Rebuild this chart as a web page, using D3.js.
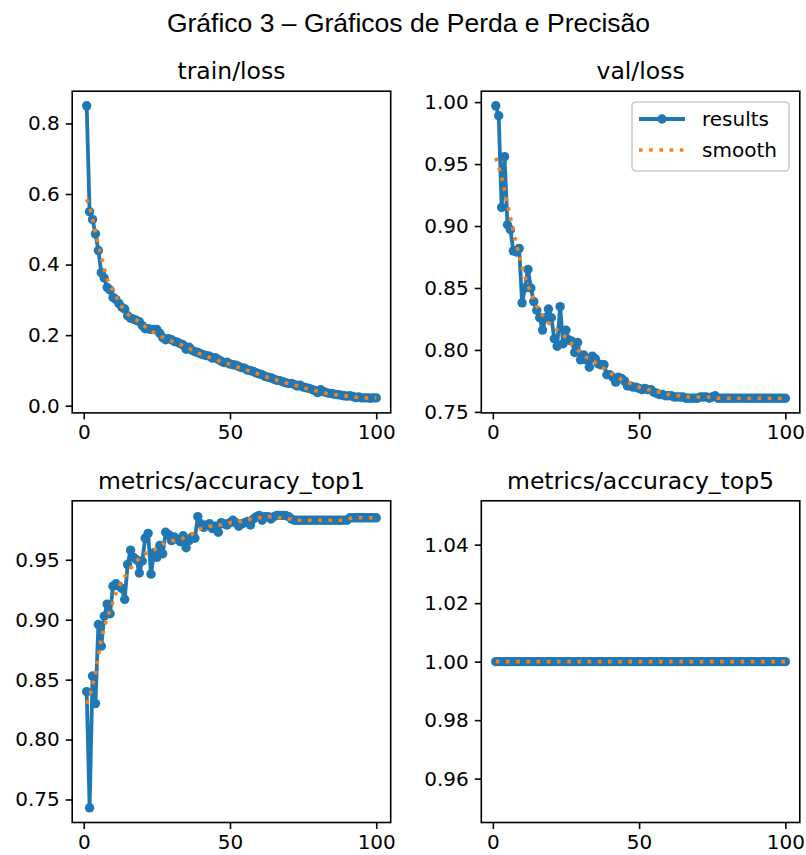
<!DOCTYPE html>
<html><head><meta charset="utf-8">
<script src="https://cdn.jsdelivr.net/npm/d3@7/dist/d3.min.js"></script>
<style>body{margin:0;background:#fff}svg{display:block}</style>
</head><body>
<svg id="c" width="806" height="855"></svg>
<script>
// ---------------- data ----------------
const epochs = d3.range(1, 101);
const xTicks = [0, 50, 100];

const trainLoss = [0.850,0.550,0.528,0.487,0.440,0.377,0.362,0.335,0.328,0.307,
0.301,0.290,0.279,0.274,0.255,0.248,0.245,0.242,0.238,0.227,
0.218,0.218,0.216,0.216,0.216,0.205,0.193,0.187,0.190,0.187,
0.182,0.180,0.176,0.172,0.160,0.166,0.157,0.153,0.151,0.147,
0.144,0.142,0.140,0.135,0.136,0.131,0.126,0.122,0.123,0.118,
0.116,0.115,0.111,0.108,0.106,0.101,0.099,0.097,0.093,0.090,
0.088,0.083,0.081,0.079,0.075,0.072,0.071,0.068,0.065,0.063,
0.063,0.060,0.056,0.058,0.053,0.051,0.049,0.046,0.043,0.037,
0.045,0.040,0.037,0.035,0.034,0.032,0.031,0.030,0.028,0.027,
0.028,0.026,0.023,0.025,0.022,0.022,0.022,0.021,0.022,0.022];
const trainSmooth = [0.585,0.565,0.530,0.492,0.455,0.420,0.388,0.360,0.342,0.327,
0.310,0.295,0.281,0.270,0.260,0.252,0.247,0.243,0.237,0.230,
0.224,0.218,0.212,0.207,0.202,0.198,0.194,0.190,0.186,0.183,
0.180,0.177,0.174,0.170,0.166,0.162,0.158,0.154,0.150,0.146,
0.143,0.140,0.137,0.134,0.131,0.128,0.125,0.122,0.120,0.117,
0.114,0.111,0.108,0.106,0.103,0.100,0.097,0.095,0.092,0.089,
0.086,0.083,0.080,0.078,0.075,0.073,0.070,0.068,0.065,0.063,
0.061,0.058,0.056,0.053,0.051,0.049,0.047,0.045,0.043,0.041,
0.039,0.037,0.035,0.034,0.032,0.031,0.030,0.029,0.028,0.027,
0.026,0.025,0.024,0.023,0.023,0.022,0.022,0.022,0.022,0.022];
const trainTicks = [0.0, 0.2, 0.4, 0.6, 0.8];
const trainTickLabels = ["0.0", "0.2", "0.4", "0.6", "0.8"];

const valLoss = [0.997,0.989,0.915,0.956,0.901,0.897,0.880,0.879,0.882,0.838,
0.850,0.865,0.850,0.839,0.832,0.826,0.816,0.826,0.833,0.826,
0.809,0.803,0.835,0.805,0.816,0.808,0.807,0.798,0.806,0.792,
0.796,0.792,0.786,0.795,0.793,0.789,0.788,0.788,0.780,0.780,
0.778,0.774,0.778,0.777,0.775,0.771,0.771,0.770,0.770,0.769,
0.768,0.769,0.768,0.768,0.766,0.765,0.764,0.764,0.763,0.763,
0.763,0.762,0.762,0.762,0.762,0.761,0.761,0.761,0.761,0.761,
0.762,0.762,0.762,0.761,0.762,0.763,0.761,0.761,0.761,0.761,
0.761,0.761,0.761,0.761,0.761,0.761,0.761,0.761,0.761,0.761,
0.761,0.761,0.761,0.761,0.761,0.761,0.761,0.761,0.761,0.761];
const valSmooth = [0.955,0.948,0.939,0.929,0.918,0.907,0.896,0.886,0.876,0.867,
0.859,0.852,0.846,0.840,0.835,0.831,0.828,0.825,0.822,0.820,
0.818,0.816,0.814,0.812,0.810,0.807,0.805,0.802,0.800,0.798,
0.796,0.794,0.793,0.791,0.790,0.788,0.786,0.785,0.783,0.782,
0.780,0.779,0.778,0.776,0.775,0.774,0.773,0.772,0.771,0.770,
0.769,0.769,0.768,0.768,0.767,0.766,0.766,0.765,0.765,0.764,
0.764,0.763,0.763,0.763,0.762,0.762,0.762,0.762,0.762,0.762,
0.762,0.762,0.762,0.762,0.762,0.762,0.761,0.761,0.761,0.761,
0.761,0.761,0.761,0.761,0.761,0.761,0.761,0.761,0.761,0.761,
0.761,0.761,0.761,0.761,0.761,0.761,0.761,0.761,0.761,0.761];
const valTicks = [0.75, 0.80, 0.85, 0.90, 0.95, 1.00];
const valTickLabels = ["0.75", "0.80", "0.85", "0.90", "0.95", "1.00"];

const top1 = [0.840,0.743,0.853,0.830,0.896,0.878,0.903,0.913,0.905,0.928,
0.930,0.928,0.926,0.917,0.946,0.958,0.952,0.950,0.939,0.949,
0.968,0.972,0.938,0.956,0.952,0.962,0.955,0.973,0.971,0.966,
0.969,0.967,0.965,0.970,0.960,0.966,0.969,0.968,0.986,0.980,
0.977,0.979,0.980,0.976,0.978,0.973,0.981,0.980,0.979,0.981,
0.983,0.981,0.978,0.980,0.981,0.982,0.979,0.984,0.986,0.987,
0.983,0.986,0.986,0.984,0.986,0.987,0.987,0.987,0.987,0.986,
0.984,0.983,0.983,0.983,0.983,0.983,0.983,0.983,0.983,0.983,
0.983,0.983,0.983,0.983,0.983,0.983,0.983,0.983,0.983,0.983,
0.985,0.985,0.985,0.985,0.985,0.985,0.985,0.985,0.985,0.985];
const top1Smooth = [0.830,0.836,0.845,0.855,0.870,0.884,0.894,0.901,0.908,0.915,
0.922,0.927,0.932,0.936,0.939,0.943,0.946,0.949,0.951,0.953,
0.955,0.956,0.957,0.958,0.960,0.961,0.963,0.964,0.965,0.966,
0.966,0.967,0.967,0.968,0.969,0.970,0.971,0.973,0.975,0.976,
0.977,0.977,0.978,0.978,0.978,0.979,0.979,0.980,0.980,0.981,
0.981,0.981,0.982,0.982,0.983,0.983,0.984,0.984,0.985,0.985,
0.985,0.985,0.986,0.986,0.986,0.986,0.985,0.985,0.985,0.984,
0.984,0.983,0.983,0.983,0.983,0.983,0.983,0.983,0.983,0.983,
0.983,0.983,0.983,0.983,0.983,0.983,0.983,0.983,0.9835,0.984,
0.9845,0.985,0.985,0.985,0.985,0.985,0.985,0.985,0.985,0.985];
const top1Ticks = [0.75, 0.80, 0.85, 0.90, 0.95];
const top1TickLabels = ["0.75", "0.80", "0.85", "0.90", "0.95"];

const top5 = [1,1,1,1,1,1,1,1,1,1, 1,1,1,1,1,1,1,1,1,1, 1,1,1,1,1,1,1,1,1,1,
1,1,1,1,1,1,1,1,1,1, 1,1,1,1,1,1,1,1,1,1, 1,1,1,1,1,1,1,1,1,1,
1,1,1,1,1,1,1,1,1,1, 1,1,1,1,1,1,1,1,1,1, 1,1,1,1,1,1,1,1,1,1,
1,1,1,1,1,1,1,1,1,1];
const top5Smooth = [1,1,1,1,1,1,1,1,1,1, 1,1,1,1,1,1,1,1,1,1, 1,1,1,1,1,1,1,1,1,1,
1,1,1,1,1,1,1,1,1,1, 1,1,1,1,1,1,1,1,1,1, 1,1,1,1,1,1,1,1,1,1,
1,1,1,1,1,1,1,1,1,1, 1,1,1,1,1,1,1,1,1,1, 1,1,1,1,1,1,1,1,1,1,
1,1,1,1,1,1,1,1,1,1];
const top5Ticks = [0.96, 0.98, 1.00, 1.02, 1.04];
const top5TickLabels = ["0.96", "0.98", "1.00", "1.02", "1.04"];

const titles = ["train/loss", "val/loss", "metrics/accuracy_top1", "metrics/accuracy_top5"];
const legendLabels = ["results", "smooth"];
const figTitle = "Gráfico 3 – Gráficos de Perda e Precisão";

// ---------------- layout / style ----------------
const BLUE = "#1f77b4", ORANGE = "#ff7f0e";
const AX_W = 318.5, AX_H = 321.7;
const cells = [
  {x: 72.2, y: 91.2}, {x: 481.3, y: 91.2},
  {x: 72.2, y: 500.8}, {x: 481.3, y: 500.8}
];
const FONT = "'DejaVu Sans', sans-serif";
const TICK_FS = 20, TITLE_FS = 23.5;
const LINE_W = 3.8, MARK_R = 4.7;

const panels = [
  {title: titles[0], y: trainLoss, s: trainSmooth, ticks: trainTicks, labels: trainTickLabels},
  {title: titles[1], y: valLoss, s: valSmooth, ticks: valTicks, labels: valTickLabels, legend: true},
  {title: titles[2], y: top1, s: top1Smooth, ticks: top1Ticks, labels: top1TickLabels},
  {title: titles[3], y: top5, s: top5Smooth, ticks: top5Ticks, labels: top5TickLabels}
];

const svg = d3.select("#c");
svg.append("rect").attr("width", 806).attr("height", 855).attr("fill", "#fff");

svg.append("text").attr("x", 408.5).attr("y", 32)
  .attr("text-anchor", "middle")
  .style("font-family", "'Liberation Sans', Arial, sans-serif")
  .style("font-size", "26.5px").attr("fill", "#000")
  .text(figTitle);

function mplDomain(arrs) {
  let lo = d3.min(arrs, a => d3.min(a)), hi = d3.max(arrs, a => d3.max(a));
  if (hi - lo < 1e-12) { lo = lo - 0.05 * Math.abs(lo); hi = hi + 0.05 * Math.abs(hi); }
  const m = (hi - lo) * 0.05;
  return [lo - m, hi + m];
}

panels.forEach((p, i) => {
  const c = cells[i];
  const g = svg.append("g").attr("transform", `translate(${c.x},${c.y})`);
  const x = d3.scaleLinear().domain([1 - 0.05 * 99, 100 + 0.05 * 99]).range([0, AX_W]);
  const y = d3.scaleLinear().domain(mplDomain([p.y, p.s])).range([AX_H, 0]);

  const clipId = "clip" + i;
  g.append("clipPath").attr("id", clipId).append("rect").attr("width", AX_W).attr("height", AX_H);
  const plot = g.append("g").attr("clip-path", `url(#${clipId})`);

  const line = d3.line().x((d, j) => x(epochs[j])).y(d => y(d));
  plot.append("path").datum(p.y).attr("d", line)
    .attr("fill", "none").attr("stroke", BLUE).attr("stroke-width", LINE_W)
    .attr("stroke-linejoin", "round");
  plot.selectAll("circle.m").data(p.y).join("circle").attr("class", "m")
    .attr("cx", (d, j) => x(epochs[j])).attr("cy", d => y(d)).attr("r", MARK_R)
    .attr("fill", BLUE);
  plot.append("path").datum(p.s).attr("d", line)
    .attr("fill", "none").attr("stroke", ORANGE).attr("stroke-width", 3.6)
    .attr("stroke-dasharray", "3.6 6.6");

  // axes
  const xa = g.append("g").attr("transform", `translate(0,${AX_H})`)
    .call(d3.axisBottom(x).tickValues(xTicks).tickFormat(d3.format("d")).tickSize(6.5).tickPadding(5.5).tickSizeOuter(0));
  const ya = g.append("g")
    .call(d3.axisLeft(y).tickValues(p.ticks).tickFormat((d, k) => p.labels[k]).tickSize(6.5).tickPadding(6).tickSizeOuter(0));
  [xa, ya].forEach(a => {
    a.select(".domain").remove();
    a.selectAll("line").attr("stroke", "#000").attr("stroke-width", 1.6);
    a.selectAll("text").style("font-family", FONT).style("font-size", TICK_FS + "px").attr("fill", "#000");
  });

  g.append("rect").attr("width", AX_W).attr("height", AX_H)
    .attr("fill", "none").attr("stroke", "#000").attr("stroke-width", 1.6);

  g.append("text").attr("x", AX_W / 2).attr("y", -12)
    .attr("text-anchor", "middle")
    .style("font-family", FONT).style("font-size", TITLE_FS + "px").attr("fill", "#000")
    .text(p.title);

  if (p.legend) {
    const L = g.append("g").attr("transform", `translate(${632 - c.x},${102 - c.y})`);
    L.append("rect").attr("width", 157).attr("height", 69).attr("rx", 4)
      .attr("fill", "#fff").attr("fill-opacity", 0.8).attr("stroke", "#ccc").attr("stroke-width", 1.6);
    L.append("line").attr("x1", 7).attr("x2", 53).attr("y1", 17).attr("y2", 17)
      .attr("stroke", BLUE).attr("stroke-width", LINE_W);
    L.append("circle").attr("cx", 30).attr("cy", 17).attr("r", MARK_R).attr("fill", BLUE);
    L.append("line").attr("x1", 7).attr("x2", 53).attr("y1", 48).attr("y2", 48)
      .attr("stroke", ORANGE).attr("stroke-width", 3.6).attr("stroke-dasharray", "3.6 6.6");
    legendLabels.forEach((t, k) => {
      L.append("text").attr("x", 70).attr("y", 17 + 31 * k).attr("dy", "0.35em")
        .style("font-family", FONT).style("font-size", "20px").attr("fill", "#000").text(t);
    });
  }
});
</script>
</body></html>
